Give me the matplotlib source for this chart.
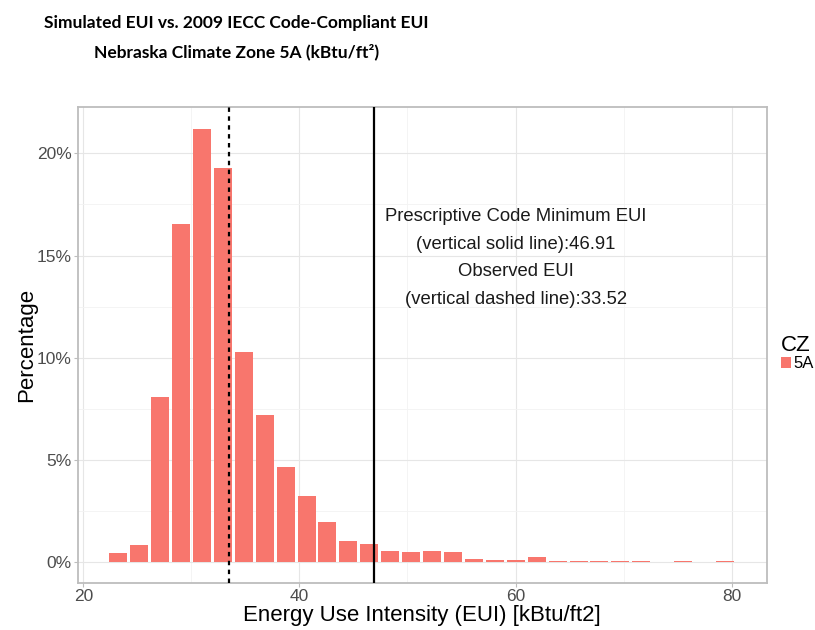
import numpy as np
import matplotlib
matplotlib.use('Agg')
import matplotlib.pyplot as plt
import matplotlib.ticker as mticker

# Histogram of simulated EUI, 30 bins (in percent)
bin_start = 22.27
bin_width = 1.936
pct = [0.47, 0.85, 8.08, 16.54, 21.19, 19.28, 10.28, 7.20, 4.66, 3.24,
       1.97, 1.04, 0.88, 0.57, 0.49, 0.57, 0.49, 0.16, 0.12, 0.12,
       0.27, 0.05, 0.05, 0.05, 0.05, 0.05, 0.0, 0.05, 0.0, 0.05]
code_eui = 46.91      # solid line
observed_eui = 33.52  # dashed line
zone = '5A'

note = ('Prescriptive Code Minimum EUI\n(vertical solid line):46.91\n'
        'Observed EUI\n(vertical dashed line):33.52')

bar_color = '#F8766D'

fig = plt.figure(figsize=(8.15, 6.3), dpi=100)
ax = fig.add_axes([0.0953, 0.0746, 0.8454, 0.756])

centers = bin_start + bin_width * (np.arange(len(pct)) + 0.5)
bars = ax.bar(centers, pct, width=bin_width * 0.86, color=bar_color,
              linewidth=0, label=zone, zorder=2)

ax.axvline(code_eui, color='black', linewidth=1.6, zorder=3)
ax.axvline(observed_eui, color='black', linewidth=1.6, linestyle=(0, (2, 2)), zorder=3)

ax.text(60, 14.88, note, ha='center', va='center', fontsize=13.3,
        color='#1a1a1a', linespacing=1.8, family='Liberation Sans', zorder=4)

ax.set_xlim(19.48, 83.24)
ax.set_ylim(-1.01, 22.28)
ax.xaxis.set_major_locator(mticker.MultipleLocator(20))
ax.xaxis.set_minor_locator(mticker.MultipleLocator(10))
ax.yaxis.set_major_locator(mticker.MultipleLocator(5))
ax.yaxis.set_minor_locator(mticker.MultipleLocator(2.5))
ax.yaxis.set_major_formatter(mticker.PercentFormatter(xmax=100, decimals=0))

ax.grid(which='major', color='#E6E6E6', linewidth=0.8, zorder=0)
ax.grid(which='minor', color='#F3F3F3', linewidth=0.6, zorder=0)
ax.set_axisbelow(True)
for s in ax.spines.values():
    s.set_color('#BDBDBD')
    s.set_linewidth(1.3)
ax.tick_params(which='major', length=3, color='#BDBDBD', labelsize=12.5,
               labelcolor='#4D4D4D', pad=1.5)
ax.tick_params(which='minor', length=0)
for lab in ax.get_xticklabels() + ax.get_yticklabels():
    lab.set_family('Liberation Sans')

ax.set_xlabel('Energy Use Intensity (EUI) [kBtu/ft2]', fontsize=16,
              family='Liberation Sans')
ax.set_ylabel('Percentage', fontsize=16, family='Liberation Sans')
ax.xaxis.set_label_coords(0.5, -0.047)
ax.yaxis.set_label_coords(-0.059, 0.5)

leg = ax.legend(handles=[bars], title='CZ', loc='upper left',
                bbox_to_anchor=(1.021, 0.52), frameon=False,
                handlelength=0.6, handleheight=0.6, handletextpad=0.15,
                borderaxespad=0, borderpad=0, labelspacing=0,
                prop={'family': 'Liberation Sans', 'size': 12})
leg.get_title().set_fontsize(16)
leg.get_title().set_family('Liberation Sans')
leg._legend_box.align = 'left'

fig.text(0.29, 0.964, 'Simulated EUI vs. 2009 IECC Code-Compliant EUI',
         ha='center', va='center', fontsize=12.5, fontweight='bold',
         family='Lato')
fig.text(0.29, 0.918, 'Nebraska Climate Zone 5A (kBtu/ft²)',
         ha='center', va='center', fontsize=12.5, fontweight='bold',
         family='Lato')

fig.savefig('out.png', dpi=100)
